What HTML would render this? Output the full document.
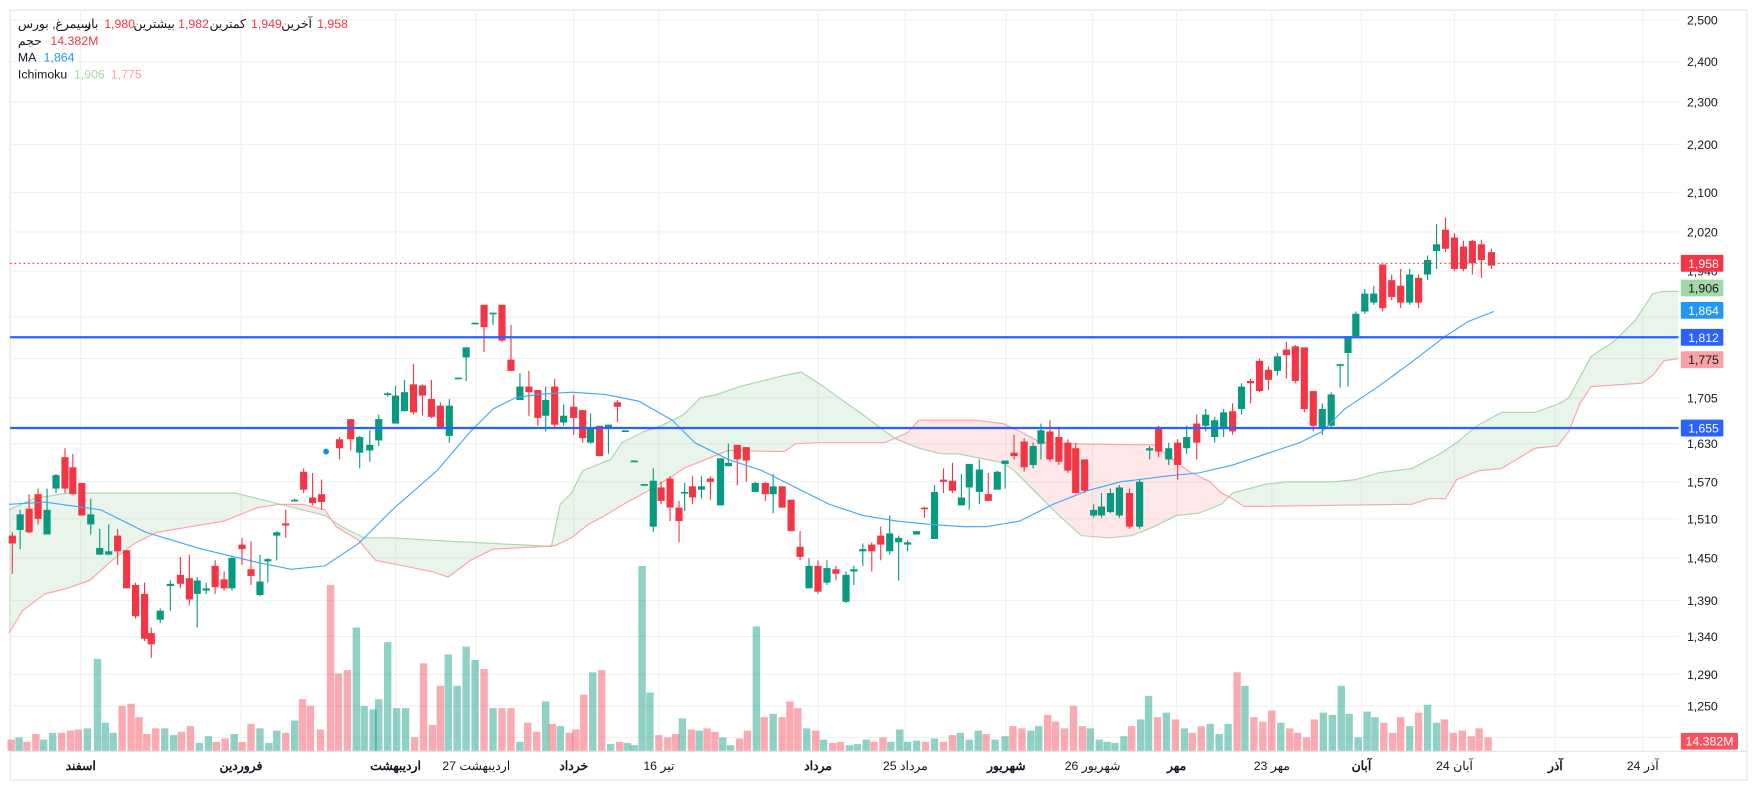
<!DOCTYPE html>
<html><head><meta charset="utf-8">
<style>
html,body{margin:0;padding:0;background:#fff;width:1757px;height:790px;overflow:hidden}
svg{display:block}
text{font-family:"Liberation Sans","Noto Sans CJK SC",sans-serif}
</style></head>
<body>
<svg id="s" width="1757" height="790" viewBox="0 0 1568 705" preserveAspectRatio="none" xmlns="http://www.w3.org/2000/svg">
<rect x="0" y="0" width="1568" height="705" fill="#fff"/>
<rect x="9" y="9" width="1550" height="687" fill="none" stroke="#e0e3eb" stroke-width="1"/>
<g id="grid" stroke="#f0f1f3" stroke-width="1"></g>
<defs>
<clipPath id="belowB"><path id="cpB"/></clipPath>
<clipPath id="aboveB"><path id="cpB2"/></clipPath>
</defs>
<g id="cloud"></g>
<g id="vol"></g>
<g id="cand"></g>
<g id="lines"></g>
<g id="axis"></g>
<g id="legend" font-size="11"></g>
</svg>
<script>
var NS="http://www.w3.org/2000/svg";
function el(p,t,a,txt){var e=document.createElementNS(NS,t);for(var k in a)e.setAttribute(k,a[k]);if(txt!==undefined)e.textContent=txt;p.appendChild(e);return e;}
var G=document.getElementById.bind(document);
var PR=1498;
var hy=[18,55,91,129,172,207,242,283,320,355,396,430,463,498,536,568,602,630,658];
hy.forEach(function(y){el(G('grid'),'line',{x1:9,x2:PR,y1:y,y2:y});});
var vx=[72,215,353,425,512,588,730,808,898,975,1050,1135,1215,1298,1388,1466];
vx.forEach(function(x){el(G('grid'),'line',{x1:x,x2:x,y1:9,y2:670});});
el(G('grid'),'line',{x1:9,x2:1559,y1:670.5,y2:670.5,stroke:'#e0e3eb'});
var A=[[8,455],[30,445],[60,440],[90,440],[130,440],[170,440],[210,440],[230,445],[250,450],[270,455],[290,460],[305,470],[325,480],[350,480],[400,483],[440,485],[480,487],[492,488],[500,450],[510,440],[520,420],[545,410],[555,395],[575,385],[590,380],[610,370],[625,355],[640,352],[660,345],[680,340],[700,335],[715,332],[735,345],[750,356],[770,370],[790,385],[800,392],[820,400],[840,405],[855,405],[880,410],[895,413],[905,420],[925,440],[945,460],[965,478],[990,480],[1010,478],[1030,470],[1050,460],[1070,458],[1090,450],[1100,440],[1130,432],[1150,430],[1190,430],[1210,428],[1230,422],[1260,418],[1285,405],[1300,395],[1318,380],[1340,368],[1370,368],[1392,360],[1400,355],[1420,318],[1440,305],[1460,285],[1475,262],[1485,260],[1498,260]];
var B=[[8,565],[20,545],[40,530],[60,525],[80,518],[100,500],[120,485],[140,475],[170,470],[200,465],[230,453],[250,450],[270,450],[290,455],[300,470],[320,482],[335,500],[360,505],[385,510],[400,515],[420,500],[440,490],[480,488],[495,487],[510,480],[525,468],[540,460],[560,448],[575,440],[600,425],[610,418],[630,410],[650,402],[700,403],[710,396],[730,395],[790,395],[810,386],[820,375],[870,375],[895,378],[910,385],[925,393],[940,396],[1030,397],[1060,420],[1080,430],[1090,440],[1100,445],[1110,452],[1260,450],[1275,445],[1290,445],[1300,428],[1320,420],[1340,418],[1370,400],[1390,398],[1400,385],[1410,360],[1420,345],[1465,342],[1475,335],[1485,322],[1498,320]];
function pts(a){return a.map(function(p){return p[0]+','+p[1];}).join(' L');}
G('cpB').setAttribute('d','M8,705 L'+pts(B)+' L1498,705 Z');
G('cpB2').setAttribute('d','M8,0 L'+pts(B)+' L1498,0 Z');
el(G('cloud'),'path',{d:'M8,705 L'+pts(A)+' L1498,705 Z',fill:'rgba(76,175,80,0.12)','clip-path':'url(#aboveB)'});
el(G('cloud'),'path',{d:'M8,0 L'+pts(A)+' L1498,0 Z',fill:'rgba(242,54,69,0.12)','clip-path':'url(#belowB)'});
el(G('cloud'),'path',{d:'M'+pts(A),fill:'none',stroke:'#a5d6a7','stroke-width':1});
el(G('cloud'),'path',{d:'M'+pts(B),fill:'none',stroke:'#faa1a4','stroke-width':1});
var C=[[11,'r',478,485,475,512],[18,'g',459,473,455,490],[26,'r',454,475,441,476],[34,'r',441,463,436,468],[42,'g',455,477,436,477],[50,'g',424,436,423,440],[58,'r',408,436,400,440],[65,'r',417,441,405,442],[73,'r',431,460,431,460],[81,'g',459,468,445,477],[89,'g',489,495,472,495],[97,'g',492,495,468,495],[105,'r',478,492,472,504],[113,'r',491,525,491,525],[121,'r',522,550,520,552],[129,'r',530,570,520,572],[135,'r',565,575,560,587],[143,'g',545,553,543,556],[152,'g',521,523,518,545],[161,'r',513,521,497,525],[169,'r',516,535,495,540],[176,'g',518,530,515,560],[184,'g',525,527,520,530],[192,'r',505,524,500,530],[200,'r',517,525,510,527],[207,'g',498,525,497,527],[216,'r',486,490,480,504],[224,'r',508,514,483,522],[232,'g',519,531,495,532],[239,'g',499,501,498,520],[247,'g',475,478,474,500],[255,'r',467,469,455,480],[263,'g',446,447,445,447],[271,'r',421,437,418,440],[279,'r',444,449,422,451],[287,'r',441,448,428,455],[303,'r',392,400,390,410],[313,'r',374,392,374,402],[321,'g',390,404,389,418],[330,'g',397,402,384,412],[338,'g',374,393,370,398],[346,'g',351,352,350,354],[353,'g',353,378,344,378],[361,'g',350,367,339,367],[369,'r',343,368,325,370],[377,'r',344,353,343,371],[385,'r',356,372,339,373],[393,'r',362,382,359,383],[401,'g',362,389,356,395],[409,'g',337,338,337,338],[416,'g',310,319,310,340],[424,'g',288,289,288,289],[432,'r',272,292,272,314],[440,'g',279,280,279,290],[448,'r',272,304,272,305],[456,'r',321,331,290,331],[464,'g',345,357,333,357],[472,'r',345,350,331,371],[480,'r',348,373,348,380],[487,'g',357,371,345,385],[495,'r',345,379,338,382],[503,'g',371,377,361,380],[512,'r',363,373,352,388],[520,'r',366,391,366,395],[527,'g',382,395,369,396],[535,'r',380,407,380,407],[543,'g',379,381,379,405],[551,'r',359,363,357,377],[558,'g',384,385,384,385],[566,'g',411,412,411,412],[575,'g',432,433,432,433],[583,'g',429,470,418,475],[590,'r',435,447,430,450],[598,'r',427,453,425,465],[606,'r',453,465,447,484],[611,'g',439,440,431,456],[618,'r',434,444,425,450],[626,'g',434,437,425,445],[634,'r',427,430,425,446],[643,'g',409,451,409,451],[650,'g',413,416,396,416],[658,'r',397,410,397,433],[666,'r',399,411,399,430],[674,'g',431,439,430,439],[683,'r',431,441,430,447],[690,'g',434,441,423,458],[698,'r',434,453,434,453],[706,'r',446,474,446,474],[714,'r',488,497,474,500],[722,'g',505,525,498,525],[730,'r',505,528,500,530],[738,'g',507,520,500,522],[746,'r',508,512,505,518],[755,'g',513,537,510,538],[762,'g',508,510,505,522],[770,'g',490,492,485,505],[778,'r',486,492,484,510],[786,'r',478,486,470,500],[794,'g',476,492,460,495],[802,'g',480,484,478,518],[810,'g',484,486,482,492],[818,'g',474,477,474,477],[825,'r',453,454,452,462],[834,'g',439,481,433,481],[842,'r',428,430,418,440],[850,'r',429,438,413,440],[858,'g',444,451,423,451],[865,'g',414,435,414,455],[874,'g',419,439,410,450],[882,'r',441,447,422,447],[890,'g',421,437,420,437],[897,'g',411,414,411,436],[905,'r',404,407,388,410],[914,'r',394,417,391,421],[922,'g',398,415,395,418],[929,'g',384,396,378,410],[937,'r',385,410,375,412],[945,'r',390,412,382,415],[953,'r',395,420,392,422],[960,'r',400,440,395,440],[968,'r',410,438,410,440],[976,'g',455,460,450,462],[983,'g',452,460,440,462],[991,'g',440,457,436,458],[999,'g',435,460,433,462],[1008,'r',440,470,436,472],[1017,'g',430,470,428,472],[1026,'g',400,402,398,410],[1034,'r',382,403,380,408],[1043,'g',400,410,395,415],[1051,'r',395,415,392,428],[1059,'g',390,400,380,405],[1068,'r',378,395,370,410],[1076,'g',370,380,365,385],[1084,'g',375,390,372,395],[1092,'g',368,383,365,390],[1100,'r',367,385,360,388],[1108,'g',345,365,342,370],[1116,'r',340,342,338,360],[1124,'r',322,349,320,350],[1132,'r',330,339,327,348],[1140,'g',318,331,315,335],[1148,'r',312,317,305,338],[1156,'r',309,340,308,342],[1164,'r',310,365,310,368],[1172,'r',349,380,349,385],[1180,'g',365,382,360,388],[1188,'g',352,380,350,382],[1196,'g',325,326,325,346],[1203,'g',300,315,300,345],[1210,'g',280,300,278,302],[1218,'g',262,278,258,280],[1226,'g',262,270,255,272],[1234,'r',236,275,236,278],[1242,'r',250,265,245,268],[1250,'r',255,270,240,275],[1258,'g',245,270,240,272],[1266,'r',248,270,245,275],[1274,'g',232,245,228,250],[1282,'g',218,224,200,240],[1290,'r',205,222,194,225],[1298,'r',212,240,208,242],[1306,'r',220,240,215,242],[1314,'r',215,235,214,245],[1322,'r',218,232,214,248],[1331,'r',225,237,222,240]];
var GC='#089981',RC='#f23645';
C.forEach(function(c){var col=c[1]=='g'?GC:RC;
el(G('cand'),'line',{x1:c[0],x2:c[0],y1:c[4],y2:c[5],stroke:col,'stroke-width':1});
var h=Math.max(c[3]-c[2],1.5);
el(G('cand'),'rect',{x:c[0]-3.2,y:c[2],width:6.4,height:h,fill:col});});
el(G('cand'),'circle',{cx:291,cy:403,r:2.6,fill:'#1e88e5'});
var V=[[10,660],[17,658],[24,662],[32,655],[39,660],[47,654],[55,654],[63,652],[70,651],[78,650],[87,588],[94,645],[101,654],[109,630],[117,628],[124,640],[131,655],[139,650],[147,650],[155,656],[162,653],[170,648],[178,663],[186,657],[193,662],[201,659],[209,655],[216,662],[224,646],[232,650],[240,663],[247,652],[255,654],[263,643],[270,624],[277,630],[286,651],[295,522],[302,601],[310,598],[318,560],[325,630],[333,633],[338,624],[346,573],[354,632],[362,632],[370,658],[378,592],[386,647],[393,612],[400,584],[408,612],[416,577],[424,589],[432,597],[440,632],[448,632],[456,632],[464,662],[471,645],[479,653],[487,626],[493,646],[500,648],[508,654],[514,651],[521,620],[529,600],[537,598],[545,664],[553,662],[560,663],[566,665],[573,505],[580,618],[588,656],[596,658],[603,655],[609,641],[617,651],[624,652],[631,650],[638,653],[645,658],[652,665],[660,659],[667,652],[675,559],[682,640],[690,637],[698,640],[705,626],[712,632],[720,650],[728,652],[735,660],[743,663],[750,662],[758,665],[765,664],[773,660],[780,662],[788,658],[795,662],[803,651],[810,662],[818,661],[826,662],[834,659],[842,662],[850,656],[857,654],[865,660],[873,652],[880,655],[888,660],[897,657],[904,648],[912,650],[920,652],[927,648],[935,638],[942,644],[950,650],[958,630],[966,648],[973,650],[981,660],[988,662],[995,663],[1003,657],[1010,648],[1018,642],[1025,621],[1033,640],[1041,636],[1049,642],[1057,650],[1064,654],[1072,648],[1080,646],[1088,655],[1096,646],[1104,600],[1111,612],[1119,640],[1127,644],[1135,634],[1143,645],[1151,650],[1158,654],[1166,658],[1173,642],[1181,636],[1189,638],[1197,612],[1204,637],[1212,658],[1220,635],[1227,640],[1235,645],[1243,654],[1250,640],[1258,648],[1266,636],[1274,629],[1282,645],[1289,642],[1297,654],[1305,652],[1313,657],[1320,650],[1328,658]];
V.forEach(function(v){var best=C[0],d=1e9;C.forEach(function(c){var dd=Math.abs(c[0]-v[0]);if(dd<d){d=dd;best=c;}});
el(G('vol'),'rect',{x:v[0]-3.3,y:v[1],width:6.6,height:670-v[1],fill:best[1]=='g'?'rgba(8,153,129,0.45)':'rgba(242,54,69,0.42)'});});
var M=[[8,450],[40,448],[90,455],[130,475],[180,490],[230,502],[260,508],[290,505],[320,485],[350,455],[390,420],[420,385],[440,365],[460,355],[480,352],[510,350],[540,352],[570,358],[600,375],[620,395],[650,410],[680,420],[710,435],[740,450],[770,460],[800,465],[830,468],[860,470],[880,470],[910,465],[940,450],[970,438],[1000,430],[1040,425],[1070,422],[1100,415],[1130,405],[1160,395],[1180,385],[1200,365],[1230,345],[1260,323],[1290,300],[1310,287],[1333,278]];
el(G('lines'),'path',{d:'M'+pts(M),fill:'none',stroke:'#42a5f5','stroke-width':1});
el(G('lines'),'line',{x1:9,x2:PR,y1:301,y2:301,stroke:'#2962ff','stroke-width':2});
el(G('lines'),'line',{x1:9,x2:PR,y1:382,y2:382,stroke:'#2962ff','stroke-width':2});
el(G('lines'),'line',{x1:9,x2:PR,y1:235,y2:235,stroke:'#f23645','stroke-width':1,'stroke-dasharray':'1.5 2.5'});
var AL=[[18,'2,500'],[55,'2,400'],[91,'2,300'],[129,'2,200'],[172,'2,100'],[207,'2,020'],[242,'1,940'],[355,'1,705'],[396,'1,630'],[430,'1,570'],[463,'1,510'],[498,'1,450'],[536,'1,390'],[568,'1,340'],[602,'1,290'],[630,'1,250'],[658,'1,210']];
AL.forEach(function(a){el(G('axis'),'text',{x:1533,y:a[0]+4,'font-size':11,'text-anchor':'end',fill:'#131722'},a[1]);});
var T=[[235,'#f23645','#fff','1,958'],[257,'#a5d6a7','#131722','1,906'],[277,'#2196f3','#fff','1,864'],[301,'#2962ff','#fff','1,812'],[321,'#faa1a4','#131722','1,775'],[382,'#2962ff','#fff','1,655']];
T.forEach(function(t){el(G('axis'),'rect',{x:1500,y:t[0]-7.5,width:38,height:15,fill:t[1],rx:1});
el(G('axis'),'text',{x:1534,y:t[0]+4,'font-size':11,'text-anchor':'end',fill:t[2]},t[3]);});
el(G('axis'),'rect',{x:1500,y:654,width:51,height:15,fill:'#f7525f',rx:1});
el(G('axis'),'text',{x:1547,y:665.5,'font-size':11,'text-anchor':'end',fill:'#fff'},'14.382M');
var BL=[[72,'اسفند',1],[215,'فروردین',1],[353,'اردیبهشت',1],[425,'اردیبهشت 27',0],[512,'خرداد',1],[588,'تیر 16',0],[730,'مرداد',1],[808,'مرداد 25',0],[898,'شهریور',1],[975,'شهریور 26',0],[1050,'مهر',1],[1135,'مهر 23',0],[1215,'آبان',1],[1298,'آبان 24',0],[1388,'آذر',1],[1466,'آذر 24',0]];
BL.forEach(function(b){el(G('axis'),'text',{x:b[0],y:687,'font-size':11,'text-anchor':'middle',fill:'#131722','font-weight':b[2]?'bold':'normal'},b[1]);});
var L=G('legend');
var LG=[[16,'سیمرغ, بورس','#131722'],[76,'باز','#131722'],[93,'1,980','#f23645'],[119,'بیشترین','#131722'],[159,'1,982','#f23645'],[187,'کمترین','#131722'],[224,'1,949','#f23645'],[251,'آخرین','#131722'],[283,'1,958','#f23645']];
LG.forEach(function(s){el(L,'text',{x:s[0],y:25,fill:s[2]},s[1]);});
el(L,'text',{x:16,y:40,fill:'#131722'},'حجم');
el(L,'text',{x:45,y:40,fill:'#f23645'},'14.382M');
el(L,'text',{x:16,y:55,fill:'#131722'},'MA');
el(L,'text',{x:39,y:55,fill:'#2196f3'},'1,864');
el(L,'text',{x:16,y:70,fill:'#131722'},'Ichimoku');
el(L,'text',{x:66,y:70,fill:'#a5d6a7'},'1,906');
el(L,'text',{x:99,y:70,fill:'#faa1a4'},'1,775');
</script>
</body></html>
